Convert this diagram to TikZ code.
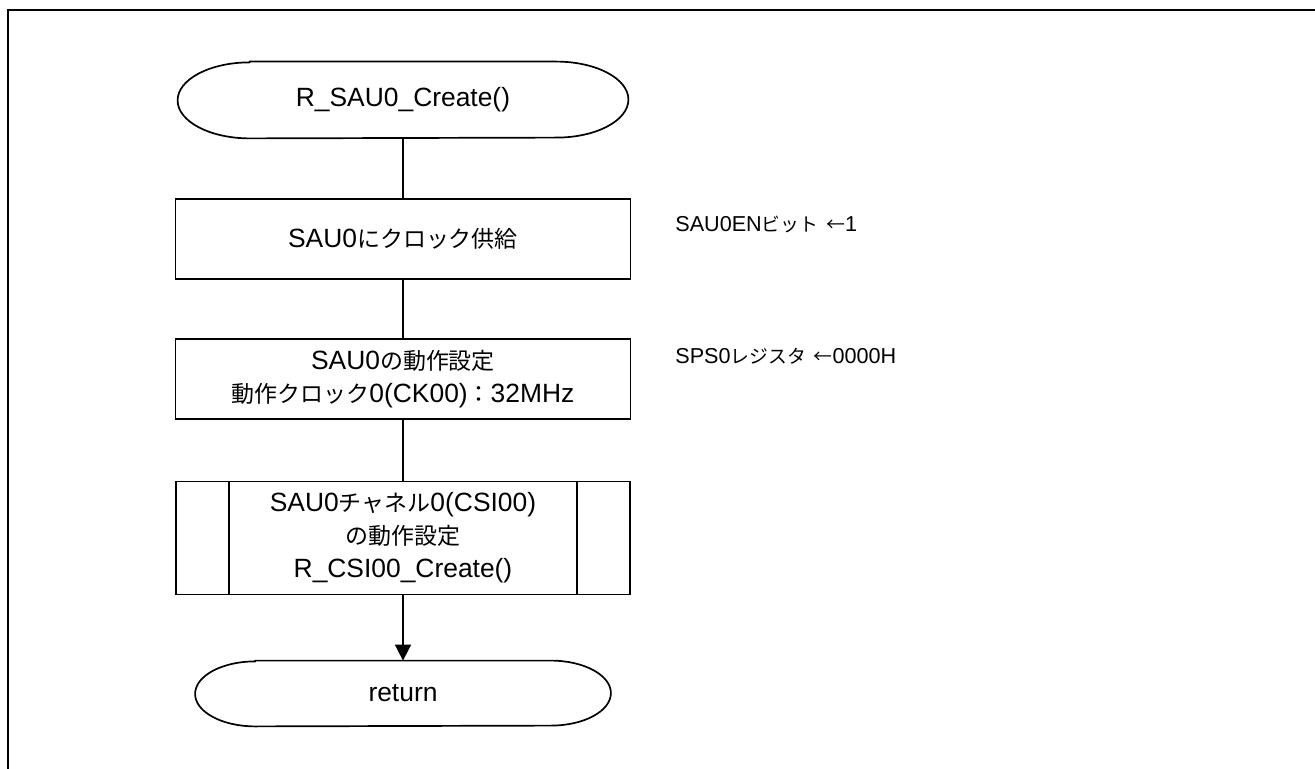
\documentclass[tikz,border=0pt]{standalone}
\usepackage{fontspec}
\setmainfont{Liberation Sans}
\newfontfamily\jp[Scale=0.87]{Noto Sans CJK JP}
\usetikzlibrary{arrows.meta}

\begin{document}
\begin{tikzpicture}[x=0.5pt, y=0.5pt, >={Triangle[length=8pt, width=8pt]},
    every node/.style={font=\fontsize{13.2}{16.5}\selectfont},
    proc/.style={draw, line width=0.85pt, minimum width=227.5pt, minimum height=40pt, align=center, inner sep=0pt},
    subproc/.style={proc, minimum width=227pt, minimum height=56.5pt},
    term/.style={minimum width=225pt, minimum height=38pt, inner sep=0pt},
    note/.style={anchor=west, inner sep=0pt, font=\fontsize{10.8}{13}\selectfont},
    flow/.style={line width=0.85pt}]

    % Page size and open frame
    \useasboundingbox (0,0) rectangle (1315,-769);
    \draw[line width=1.3pt] (1315,-10) -- (8,-10) -- (8,-769);

    % Flow chart nodes
    \node[term] (start) at (403,-100) {R\_SAU0\_Create()};
    \node[proc] (clk) at (403,-239) {SAU0{\jp にクロック供給}};
    \node[proc] (opmode) at (403,-379) {SAU0{\jp の動作設定}\\{\jp 動作クロック}0(CK00){\jp ：}32MHz};
    \node[subproc] (csi) at (403,-538) {SAU0{\jp チャネル}0(CSI00)\\{\jp の動作設定}\\R\_CSI00\_Create()};
    \node[term, minimum width=207.5pt, minimum height=32.5pt] (ret) at (403,-693.5) {return};

    % Terminal outlines with elliptic ends
    \foreach \n/\rx/\ry in {start/36pt/19pt, ret/30pt/16.25pt}
        \draw[flow] ([xshift=\rx]\n.north west) -- ([xshift=-\rx]\n.north east)
            arc[start angle=90, end angle=-90, x radius=\rx, y radius=\ry]
            -- ([xshift=\rx]\n.south west)
            arc[start angle=270, end angle=90, x radius=\rx, y radius=\ry] -- cycle;

    % Side bars of the subroutine box
    \draw[flow] ([xshift=27pt]csi.north west) -- ([xshift=27pt]csi.south west);
    \draw[flow] ([xshift=-27pt]csi.north east) -- ([xshift=-27pt]csi.south east);

    % Connectors
    \draw[flow] (start) -- (clk);
    \draw[flow] (clk) -- (opmode);
    \draw[flow] (opmode) -- (csi);
    \draw[flow, ->] (csi) -- (ret);

    % Register notes
    \node[note] (n1) at (675,-224) {SAU0EN{\jp ビット}\hspace{4pt}{\jp ←}1};
    \node[note] (n2) at (675,-356) {SPS0{\jp レジスタ}\hspace{4pt}{\jp ←}0000H};
\end{tikzpicture}
\end{document}
